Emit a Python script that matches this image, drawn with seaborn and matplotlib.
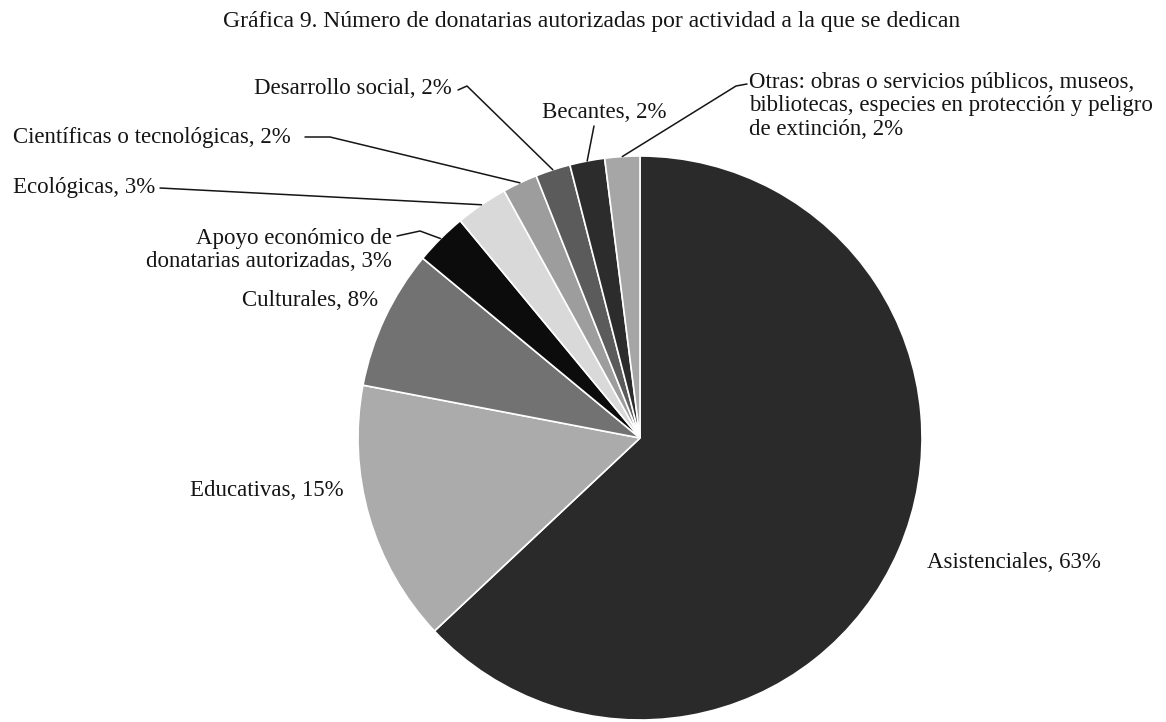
import numpy as np
import matplotlib
matplotlib.use("Agg")
import matplotlib.pyplot as plt
import seaborn as sns

# Activity categories and their share of authorized donees (%)
categories = [
    "Asistenciales",
    "Educativas",
    "Culturales",
    "Apoyo económico de\ndonatarias autorizadas",
    "Ecológicas",
    "Científicas o tecnológicas",
    "Desarrollo social",
    "Becantes",
    "Otras: obras o servicios públicos, museos,\nbibliotecas, especies en protección y peligro\nde extinción",
]
shares = [63, 15, 8, 3, 3, 2, 2, 2, 2]
slice_colors = ["#2a2a2a", "#ababab", "#727272", "#0c0c0c", "#d9d9d9",
                "#9d9d9d", "#5b5b5b", "#2c2c2c", "#a6a6a6"]
title = "Gráfica 9. Número de donatarias autorizadas por actividad a la que se dedican"

sns.set_theme(style="white")
plt.rcParams["font.family"] = ["Liberation Serif", "DejaVu Serif"]

W, H = 1166, 722
fig = plt.figure(figsize=(W / 100, H / 100), dpi=100)
ax = fig.add_axes([0, 0, 1, 1])


def Y(y):
    # canvas works in pixel-like units with the origin at the top
    return H - y


cx, cy, R = 640, Y(438), 282
wedges, _ = ax.pie(shares, colors=slice_colors, startangle=90, counterclock=False,
                   radius=R, center=(cx, cy),
                   wedgeprops=dict(edgecolor="white", linewidth=1.2))
ax.set_xlim(0, W)
ax.set_ylim(0, H)
ax.set_aspect("equal")
ax.axis("off")

fs = 16.5

# label placement: (x, y, ha, va, leader start, optional elbow)
layout = {
    "Asistenciales": (927, 563, "left", "center", None, None),
    "Educativas": (190, 490, "left", "center", None, None),
    "Culturales": (378, 300, "right", "center", None, None),
    "Apoyo económico de\ndonatarias autorizadas": (392, 250, "right", "center", (397, 236), (420, 231)),
    "Ecológicas": (13, 187, "left", "center", (160, 188), None),
    "Científicas o tecnológicas": (13, 138, "left", "center", (305, 137), (330, 137)),
    "Desarrollo social": (452, 88, "right", "center", (458, 90), (467, 86)),
    "Becantes": (604, 113, "center", "center", (594, 126), None),
    "Otras: obras o servicios públicos, museos,\nbibliotecas, especies en protección y peligro\nde extinción": (749, 106, "left", "center", (747, 84), (736, 86)),
}

for wedge, cat, val in zip(wedges, categories, shares):
    x, y, ha, va, start, elbow = layout[cat]
    ax.text(x, Y(y), f"{cat}, {val}%", ha=ha, va=va, fontsize=fs, color="#151515",
            multialignment=ha if ha != "center" else "center", linespacing=1.15)
    if start is not None:
        mid = np.deg2rad((wedge.theta1 + wedge.theta2) / 2)
        tx, ty = cx + R * np.cos(mid), cy + R * np.sin(mid)
        pts = [(start[0], Y(start[1]))]
        if elbow is not None:
            pts.append((elbow[0], Y(elbow[1])))
        pts.append((tx, ty))
        xs, ys = zip(*pts)
        ax.plot(xs, ys, color="#151515", lw=1.1, solid_capstyle="round")

ax.text(592, Y(21), title, ha="center", va="center", fontsize=17, color="#151515")

fig.savefig("out.png", dpi=100, facecolor="white")
